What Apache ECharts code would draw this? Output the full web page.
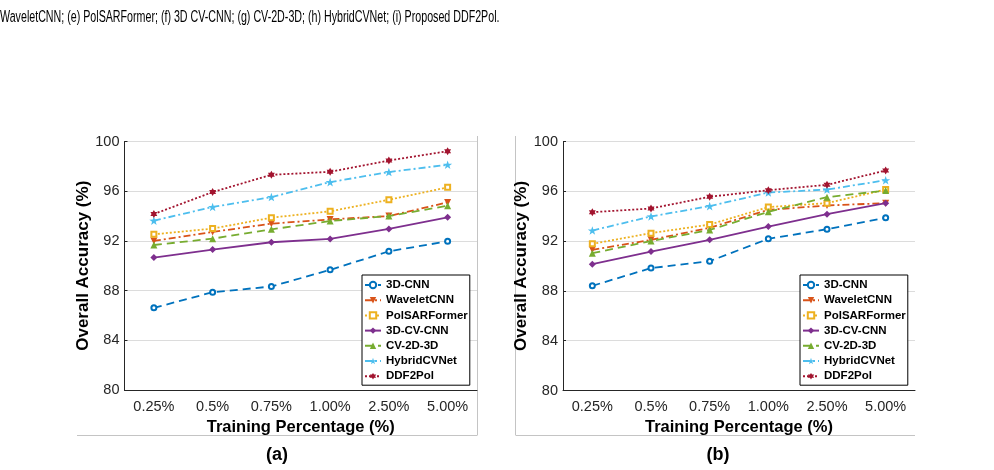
<!DOCTYPE html>
<html>
<head>
<meta charset="utf-8">
<script src="https://cdn.jsdelivr.net/npm/echarts@6/dist/echarts.min.js"></script>
<style>html,body{margin:0;padding:0;background:#fff}#c{width:994px;height:470px}</style>
</head>
<body>
<div id="c"></div>
<script>
// ---- data ----
const categories = ['0.25%', '0.5%', '0.75%', '1.00%', '2.50%', '5.00%'];
const yTicks = [80, 84, 88, 92, 96, 100];
const seriesNames = ['3D-CNN', 'WaveletCNN', 'PolSARFormer', '3D-CV-CNN', 'CV-2D-3D', 'HybridCVNet', 'DDF2Pol'];

// panel (a)
const a_3DCNN        = [86.61, 87.87, 88.33, 89.67, 91.16, 91.97];
const a_WaveletCNN   = [92.00, 92.72, 93.39, 93.73, 94.00, 95.10];
const a_PolSARFormer = [92.53, 92.99, 93.87, 94.38, 95.31, 96.31];
const a_3DCVCNN      = [90.66, 91.30, 91.89, 92.16, 92.96, 93.90];
const a_CV2D3D       = [91.67, 92.18, 92.93, 93.60, 94.00, 94.83];
const a_HybridCVNet  = [93.63, 94.73, 95.53, 96.73, 97.54, 98.13];
const a_DDF2Pol      = [94.16, 95.93, 97.32, 97.56, 98.47, 99.22];

// panel (b)
const b_3DCNN        = [88.41, 89.83, 90.39, 92.18, 92.96, 93.87];
const b_WaveletCNN   = [91.30, 92.10, 93.07, 94.51, 94.86, 95.05];
const b_PolSARFormer = [91.78, 92.64, 93.33, 94.73, 95.05, 96.14];
const b_3DCVCNN      = [90.15, 91.16, 92.10, 93.17, 94.16, 95.05];
const b_CV2D3D       = [91.03, 92.00, 92.90, 94.35, 95.53, 96.06];
const b_HybridCVNet  = [92.85, 93.98, 94.81, 95.90, 96.14, 96.89];
const b_DDF2Pol      = [94.32, 94.62, 95.56, 96.09, 96.52, 97.67];

const captionText = 'WaveletCNN; (e) PolSARFormer; (f) 3D CV-CNN; (g) CV-2D-3D; (h) HybridCVNet; (i) Proposed DDF2Pol.';
const xTitle = 'Training Percentage (%)';
const yTitle = 'Overall Accuracy (%)';
const panelLabels = ['(a)', '(b)'];

// ---- styles ----
const colors = ['#0072BD', '#D95319', '#EDB120', '#7E2F8E', '#77AC30', '#4DBEEE', '#A2142F'];
const dashed = [8, 5];
const dashdot = [7, 3, 2, 3];
const dotted = [2, 2];
const star5 = 'path://M0,-10 L2.35,-3.24 L9.51,-3.09 L3.8,1.24 L5.88,8.09 L0,4 L-5.88,8.09 L-3.8,1.24 L-9.51,-3.09 L-2.35,-3.24 Z';
const star6 = 'path://M0,-10 L2.9,-5 L8.66,-5 L5.8,0 L8.66,5 L2.9,5 L0,10 L-2.9,5 L-8.66,5 L-5.8,0 L-8.66,-5 L-2.9,-5 Z';
const styles = [
  {type: dashed, symbol: 'emptyCircle', size: 5, rotate: 0},
  {type: dashdot, symbol: 'triangle', size: 7, rotate: 180},
  {type: dotted, symbol: 'emptyRect', size: 5, rotate: 0},
  {type: 'solid', symbol: 'diamond', size: 7, rotate: 0},
  {type: dashed, symbol: 'triangle', size: 7, rotate: 0},
  {type: dashdot, symbol: star5, size: 9, rotate: 0},
  {type: dotted, symbol: star6, size: 8, rotate: 0}
];

const panelA = [a_3DCNN, a_WaveletCNN, a_PolSARFormer, a_3DCVCNN, a_CV2D3D, a_HybridCVNet, a_DDF2Pol];
const panelB = [b_3DCNN, b_WaveletCNN, b_PolSARFormer, b_3DCVCNN, b_CV2D3D, b_HybridCVNet, b_DDF2Pol];

const txt = '#262626';
const font = 'Liberation Sans, Arial, Helvetica, sans-serif';

function makeX(idx) {
  return {
    type: 'category', gridIndex: idx, data: categories, boundaryGap: true,
    axisLine: {lineStyle: {color: txt, width: 1}},
    axisTick: {inside: true, length: 3, alignWithLabel: true, lineStyle: {color: txt}},
    axisLabel: {color: txt, fontSize: 14.5, fontFamily: font, margin: 9, interval: 0},
    name: xTitle, nameLocation: 'middle', nameGap: 27,
    nameTextStyle: {color: '#000', fontSize: 16.5, fontWeight: 'bold', fontFamily: font},
    splitLine: {show: false}
  };
}
function makeY(idx) {
  return {
    type: 'value', gridIndex: idx, min: 80, max: 100, interval: 4,
    axisLine: {show: true, lineStyle: {color: txt, width: 1}},
    axisTick: {show: true, inside: true, length: 3, lineStyle: {color: txt}},
    axisLabel: {color: txt, fontSize: 14.5, fontFamily: font, margin: 5,
      formatter: v => (yTicks.indexOf(v) >= 0 ? String(v) : '')},
    name: yTitle, nameLocation: 'middle', nameGap: 25,
    nameTextStyle: {color: '#000', fontSize: 17, fontWeight: 'bold', fontFamily: font},
    splitLine: {show: true, lineStyle: {color: '#dcdcdc', width: 1}}
  };
}

const series = [];
[panelA, panelB].forEach((panel, p) => {
  panel.forEach((vals, i) => {
    const s = styles[i];
    series.push({
      type: 'line', name: seriesNames[i], xAxisIndex: p, yAxisIndex: p,
      data: vals, symbol: s.symbol, symbolSize: s.size, symbolRotate: s.rotate,
      symbolKeepAspect: true, showAllSymbol: true,
      lineStyle: {color: colors[i], width: 1.8, type: s.type},
      itemStyle: {color: colors[i], borderColor: colors[i], borderWidth: (s.symbol.indexOf('empty') === 0 ? 1.3 : 0)},
      emphasis: {disabled: true}, animation: false, z: 3 + i
    });
  });
});

function makeLegend(left) {
  return {
    data: seriesNames, left: left, top: 275, orient: 'vertical',
    backgroundColor: '#fff', borderColor: '#000', borderWidth: 1,
    padding: [3, 2, 2, 2], itemGap: 1.2, itemWidth: 16, itemHeight: 8,
    textStyle: {color: '#000', fontSize: 11.5, fontWeight: 'bold', fontFamily: font, lineHeight: 14},
    selectedMode: false
  };
}

const gray = '#c4c4c4';
const option = {
  animation: false,
  backgroundColor: '#fff',
  grid: [
    {left: 124.5, top: 141.5, width: 352.5, height: 248.5},
    {left: 563, top: 141.5, width: 352, height: 249}
  ],
  xAxis: [makeX(0), makeX(1)],
  yAxis: [makeY(0), makeY(1)],
  legend: [makeLegend(362), makeLegend(800)],
  series: series,
  graphic: [
    {type: 'text', x: 0, y: 18, scaleX: 0.667, id: 'cap',
      style: {text: captionText, fill: '#000', fontSize: 16, fontFamily: font, verticalAlign: 'middle'}},
    {type: 'line', shape: {x1: 477.5, y1: 136, x2: 477.5, y2: 435}, style: {stroke: gray, lineWidth: 1}, silent: true},
    {type: 'line', shape: {x1: 515.5, y1: 136, x2: 515.5, y2: 435}, style: {stroke: gray, lineWidth: 1}, silent: true},
    {type: 'line', shape: {x1: 77, y1: 435.5, x2: 477.5, y2: 435.5}, style: {stroke: gray, lineWidth: 1}, silent: true},
    {type: 'line', shape: {x1: 515.5, y1: 435.5, x2: 915, y2: 435.5}, style: {stroke: gray, lineWidth: 1}, silent: true},
    {type: 'text', x: 277, y: 455, style: {text: panelLabels[0], fill: '#000', fontSize: 18, fontWeight: 'bold', fontFamily: font, align: 'center', verticalAlign: 'middle'}},
    {type: 'text', x: 718, y: 455, style: {text: panelLabels[1], fill: '#000', fontSize: 18, fontWeight: 'bold', fontFamily: font, align: 'center', verticalAlign: 'middle'}}
  ]
};
const chart = echarts.init(document.getElementById('c'), null, {renderer: 'canvas'});
chart.setOption(option);
</script>
</body>
</html>
